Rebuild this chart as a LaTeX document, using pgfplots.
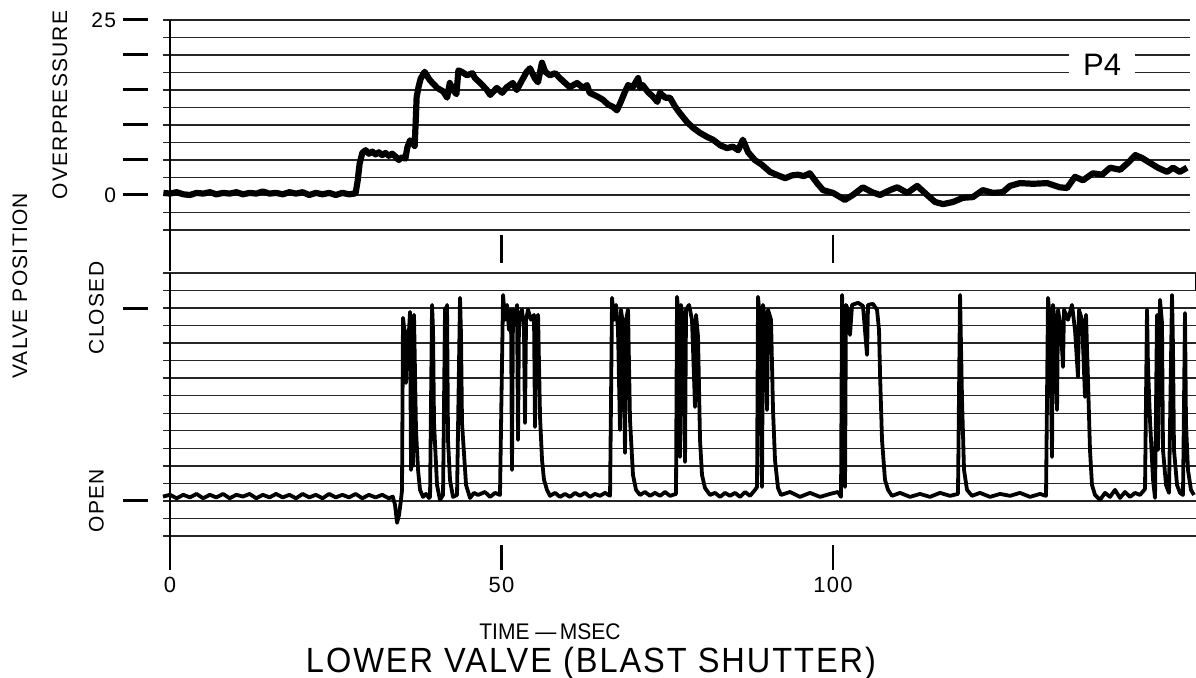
\documentclass[border=0pt]{standalone}
\usepackage{graphicx}
\usepackage{pgfplots}
\pgfplotsset{compat=1.18}
\usepackage{fontspec}
\setmainfont{Liberation Sans}
\newfontfamily\lbl[LetterSpace=6]{Liberation Sans}

\pgfplotsset{
  panel/.style={
    scale only axis, clip=false,
    axis line style={draw=none},
    tick style={draw=none},
    ymajorgrids,
    grid style={black!85, line width=0.7pt},
    yticklabels={},
  },
  tickcol/.style={
    scale only axis, width=12.5pt,
    xmin=0, xmax=1,
    axis x line=none, axis y line*=left,
    y axis line style={draw=none},
    tick align=inside, major tick length=12.5pt,
    ytick style={line width=1.5pt, black},
    yticklabel style={font=\lbl\fontsize{10.5}{12}\selectfont},
  },
}

\begin{document}
\begin{tikzpicture}
\useasboundingbox (0pt,0pt) rectangle (598pt,-339pt);

% ---------------- top panel: overpressure ----------------
\begin{axis}[panel, at={(81.5pt,-115pt)}, anchor=south west,
  width=513.5pt, height=105pt,
  xmin=-1.06, xmax=153.85, ymin=-5, ymax=25,
  xtick=\empty, ytick={-5,-2.5,...,25}]
\addplot[line width=1pt] coordinates {(0,25) (0,-10.86)};
\addplot[line width=1.2pt] coordinates {(50,-5.71) (50,-9.71)};
\addplot[line width=1.2pt] coordinates {(100,-5.71) (100,-9.71)};
\addplot[black, line width=3.1pt, line join=round] coordinates {
(-1.0,0.3) (0,0.2) (1,0.4) (2,0.1) (3,0.0) (4,0.3) (5,0.2) (6,0.4) (7,0.1) (8,0.3) (9,0.2) (10,0.4) (11,0.1) (12,0.3) (13,0.2) (14,0.5) (15,0.2) (16,0.3) (17,0.1) (18,0.4) (19,0.2) (20,0.4) (21,0.0) (22,0.3) (23,0.1) (24,0.3) (25,0.0) (26,0.3) (27,0.1) (27.8,0.2)
(28.0,0.3) (28.3,2.0) (28.6,4.5) (29.0,6.0) (29.5,6.4) (30,5.9) (30.5,6.2) (31,5.8) (31.5,6.1) (32,5.7) (32.5,6.0) (33,5.6) (33.5,5.9) (34,5.5) (34.5,5.0) (35,5.4) (35.5,5.2)
(35.8,6.8) (36.2,7.8) (36.6,7.5) (36.9,7.0)
(37.1,11.5) (37.2,14.0) (37.5,15.5) (37.8,16.6) (38.4,17.6)
(39.2,16.4) (39.8,15.8) (40.3,15.3) (41.2,14.8) (41.8,13.9) (42.2,16.0) (42.7,15.0) (43.2,14.4) (43.5,17.8)
(44.0,17.6) (44.8,17.1) (45.6,17.4) (46.0,16.7) (46.8,16.0) (47.8,15.0) (48.3,14.3) (49.3,15.3) (50.1,14.6) (50.8,15.4) (51.7,16.0) (52.3,15.0) (53.1,16.4) (53.8,17.6) (54.3,18.1) (55.0,16.7) (55.5,16.1) (56.1,18.9) (56.6,17.6) (57.3,17.1) (58.1,17.4) (58.8,16.7) (59.6,16.0) (60.3,15.4) (61.4,16.0) (62.3,15.3) (62.9,15.7) (63.3,14.6) (64.6,14.0) (65.3,13.6) (66.1,12.9) (66.8,12.6) (67.4,12.1) (67.9,13.1) (68.6,14.7) (69.1,15.7) (69.8,15.4) (70.6,16.7) (70.9,15.3) (71.3,15.7) (72.1,14.7) (72.9,14.0) (73.5,13.3) (73.9,14.6) (74.7,13.9) (75.4,13.9) (76.2,12.6) (76.9,11.7) (78.0,10.4) (78.9,9.6) (79.9,8.9) (81.0,8.3) (81.9,7.9) (83.0,7.1) (84.0,6.7) (84.9,6.9) (85.7,6.4) (86.4,7.9) (87.2,6.1) (88.2,5.0) (89.3,4.3) (90.5,3.3) (91.7,2.8) (92.8,2.4) (93.8,2.8) (94.7,2.9) (95.6,2.7) (96.5,3.1) (97.6,1.7) (98.5,0.7) (100.0,0.3) (101.8,-0.7) (103.0,0.0) (104.5,1.1) (105.9,0.4) (107.1,0.0) (108.6,0.7) (109.7,1.1) (111.2,0.3) (112.7,1.3) (114.2,0.0) (115.4,-1.0) (116.6,-1.3) (118.1,-1.0) (119.6,-0.4) (121.1,-0.3) (122.6,0.7) (124.1,0.3) (125.6,0.4) (126.7,1.3) (128.2,1.7) (130.2,1.6) (132.3,1.7) (134.2,1.1) (135.3,1.0) (136.5,2.6) (137.7,2.1) (139.2,3.1) (140.6,2.9) (141.8,3.9) (143.3,3.6) (144.5,4.6) (145.6,5.7) (146.6,5.3) (147.8,4.6) (149.0,3.9) (150.4,3.3) (151.3,3.9) (152.3,3.3) (153.4,3.9)
};
\node[fill=white, inner xsep=7pt, inner ysep=2.5pt, font=\fontsize{15.5}{17}\selectfont] at (axis cs:140.6,18.6) {P4};
\end{axis}

% ---------------- bottom panel: valve position ----------------
\begin{axis}[panel, at={(81.5pt,-268pt)}, anchor=south west,
  width=516.5pt, height=131.5pt,
  xmin=-1.06, xmax=154.75, ymin=-2, ymax=13,
  ytick={-2,-1,...,13},
  xtick={0,50,100}, xticklabels={0,50,100},
  xticklabel style={font=\lbl\fontsize{11}{13}\selectfont, anchor=north, yshift=-17pt}]
\addplot[line width=1pt] coordinates {(0,13) (0,-3.94)};
\addplot[line width=1.2pt] coordinates {(50,-2.51) (50,-3.94)};
\addplot[line width=1.2pt] coordinates {(100,-2.51) (100,-3.94)};
\addplot[line width=0.8pt] coordinates {(154.7,13) (154.7,12)};
\addplot[black, line width=1.9pt, line join=round] coordinates {
(-1.06,0.25) (0,0.35) (1,0.15) (2,0.35) (3,0.2) (4,0.4) (5,0.15) (6,0.35) (7,0.2) (8,0.4) (9,0.15) (10,0.35) (11,0.25) (12,0.4) (13,0.15) (14,0.35) (15,0.2) (16,0.4) (17,0.2) (18,0.35) (19,0.15) (20,0.4) (21,0.2) (22,0.35) (23,0.15) (24,0.4) (25,0.2) (26,0.35) (27,0.2) (28,0.4) (29,0.15) (30,0.35) (31,0.2) (32,0.35) (33,0.15) (33.6,0.25)
(33.94,-0.23) (34.24,-1.25) (34.54,-0.8) (34.84,0.06)
(34.99,0.63) (35.14,10.44) (35.44,9.47) (35.6,6.73) (35.75,9.58) (36.05,9.75) (36.2,10.78) (36.35,1.77) (36.5,10.44) (36.65,2.0) (36.8,10.61) (37.1,4.05) (37.41,1.77) (37.71,0.63) (38.16,0.23) (38.61,0.4) (39.06,0.17)
(39.22,0.23) (39.52,11.18) (39.67,9.75) (39.82,4.45) (40.27,0.91) (40.72,0.06) (41.18,0.34)
(41.48,11.01) (41.63,8.04) (41.78,11.18) (41.93,3.48) (42.23,1.2) (42.68,0.23) (43.29,0.34)
(43.74,11.58) (43.89,9.47) (44.04,4.45) (44.65,0.91) (45.25,0.17) (45.85,0.46)
(46.46,0.34) (47.51,0.51) (48.27,0.23) (49.02,0.46) (49.77,0.34)
(50.23,11.75) (50.53,10.33) (50.83,11.18) (51.13,9.75) (51.43,10.9) (51.58,1.77) (51.73,10.9) (52.04,10.04) (52.34,11.18) (52.49,3.48) (52.64,10.61) (53.09,10.9) (53.39,9.75) (53.54,4.45) (53.7,10.33) (54.0,10.9) (54.45,10.33) (54.9,10.61) (55.05,4.22) (55.2,10.33) (55.51,10.61) (55.81,4.79) (56.11,2.34) (56.41,1.2) (56.86,0.63) (57.32,0.29) (58.07,0.46) (58.82,0.23) (59.58,0.4) (60.33,0.23) (61.09,0.46) (61.84,0.29) (62.59,0.46) (63.35,0.23) (64.1,0.4) (64.86,0.29) (65.61,0.46) (66.37,0.29)
(66.67,11.58) (66.97,10.33) (67.27,11.18) (67.57,9.75) (67.87,4.05) (68.02,10.9) (68.33,10.04) (68.63,2.74) (68.78,10.33) (69.08,10.9) (69.38,4.62) (69.83,1.48) (70.29,0.63) (70.89,0.34) (71.64,0.51) (72.4,0.29) (73.15,0.46) (73.91,0.29) (74.66,0.51) (75.41,0.29) (76.32,0.4)
(76.47,11.64) (76.77,10.33) (76.92,2.51) (77.07,11.18) (77.38,10.33) (77.68,2.22) (77.83,10.9) (78.28,11.18) (78.73,10.33) (79.19,5.36) (79.34,10.61) (79.64,9.36) (79.94,3.48) (80.24,1.48) (80.69,0.74) (81.45,0.34) (82.2,0.46) (82.96,0.23) (83.71,0.46) (84.46,0.29) (85.22,0.46) (85.97,0.23) (86.73,0.51) (87.48,0.29) (88.24,0.63) (88.54,0.8)
(88.69,11.64) (88.99,10.33) (89.29,0.8) (89.44,11.18) (89.74,10.33) (90.05,5.19) (90.2,10.9) (90.65,10.33) (90.95,5.19) (91.25,2.34) (91.7,0.74) (92.16,0.34) (93.51,0.51) (95.02,0.23) (96.53,0.46) (98.04,0.23) (99.55,0.4) (100.75,0.51) (101.21,0.23)
(101.36,11.75) (101.51,9.75) (101.81,0.8) (101.96,11.18) (102.26,10.9) (102.56,9.47) (102.87,11.18) (103.77,11.3) (104.52,11.12) (105.13,8.33) (105.28,11.18) (106.03,11.24) (106.64,10.9) (106.94,9.75) (107.09,7.3) (107.39,3.48) (107.84,1.2) (108.3,0.63) (108.9,0.29) (110.11,0.46) (111.61,0.23) (113.12,0.4) (114.63,0.23) (116.14,0.46) (117.65,0.29) (118.85,0.4)
(119.16,11.75) (119.46,5.76) (119.76,1.77) (120.21,0.63) (120.97,0.29) (122.17,0.46) (123.68,0.23) (125.19,0.4) (126.7,0.29) (128.21,0.46) (129.71,0.23) (131.22,0.4) (132.13,0.29)
(132.43,11.58) (132.73,10.33) (133.03,2.51) (133.18,11.18) (133.48,10.04) (133.79,5.19) (133.94,10.9) (134.39,9.75) (134.69,7.64) (134.84,10.9) (135.44,10.33) (136.05,11.18) (136.5,9.75) (136.95,7.07) (137.1,10.9) (137.56,10.33) (138.01,5.93) (138.16,10.61) (138.46,6.9) (138.76,2.91) (139.06,0.91) (139.52,0.34) (140.27,0.06) (141.03,0.46) (141.78,0.23) (142.53,0.63) (143.29,0.17) (144.04,0.51) (144.8,0.23) (145.55,0.46) (146.3,0.34) (147.06,0.68)
(147.36,10.9) (147.51,7.64) (147.81,4.62) (148.27,1.2) (148.57,0.17) (148.87,10.61) (149.02,2.91) (149.32,11.47) (149.62,10.15) (149.77,2.91) (150.23,0.91) (150.68,0.46) (151.13,11.75) (151.28,8.78) (151.43,2.91) (151.89,0.91) (152.34,0.46) (152.79,0.34) (153.09,10.72) (153.24,4.45) (153.54,1.77) (153.99,0.63) (154.45,0.34)
};
\end{axis}

% ---------------- left tick columns ----------------
\begin{axis}[tickcol, at={(61.5pt,-115pt)}, anchor=south west, height=105pt,
  ymin=-5, ymax=25, ytick={0,5,...,25}, yticklabels={0,,,,,25}]
\end{axis}
\begin{axis}[tickcol, at={(61.5pt,-268pt)}, anchor=south west, height=131.5pt,
  ymin=-2, ymax=13, ytick={0,11}, yticklabels={OPEN,CLOSED},
  yticklabel style={xshift=-6pt, rotate=90, anchor=south}]
\end{axis}

% ---------------- labels ----------------
\node[rotate=90, font=\lbl\fontsize{10.5}{12}\selectfont] at (30pt,-52.5pt) {OVERPRESSURE};
\node[rotate=90, font=\lbl\fontsize{10.5}{12}\selectfont] at (10pt,-143pt) {VALVE POSITION};
\node[inner sep=0pt] at (275pt,-316pt) {\scalebox{0.93}[1]{\fontsize{11.3}{13}\selectfont TIME \textemdash\,MSEC}};
\node[inner sep=0pt] at (295.5pt,-331.5pt) {\scalebox{0.93}[1]{\lbl\fontsize{17.5}{20}\selectfont LOWER VALVE (BLAST SHUTTER)}};
\end{tikzpicture}
\end{document}
